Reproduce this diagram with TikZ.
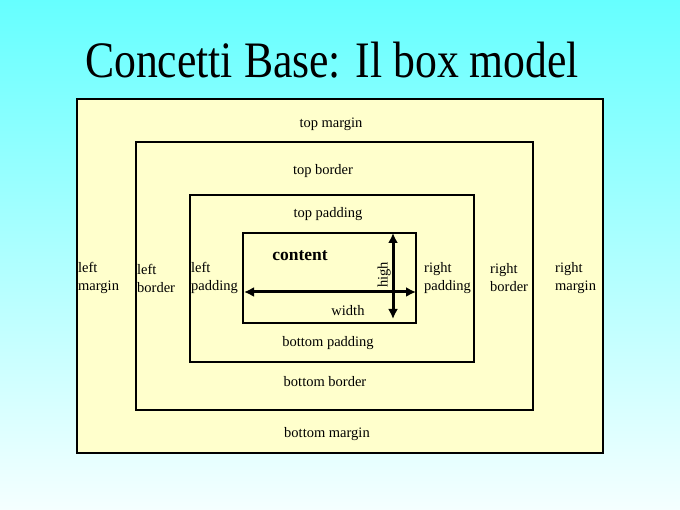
\documentclass[tikz,border=0pt]{standalone}
\usepackage{fontspec}
\setmainfont{Liberation Serif}
\usepackage{tikz}
\usetikzlibrary{arrows.meta,positioning,calc}

\begin{document}
\begin{tikzpicture}[
  x=1pt, y=-1pt,
  box/.style={draw=black, line width=1.2pt, fill=boxyellow},
  lab/.style={font=\fontsize{14.5}{18}\selectfont, inner sep=0pt},
  side/.style={lab, align=left, anchor=west},
  arr/.style={line width=3pt, {Latex[length=10pt,width=10pt]}-{Latex[length=10pt,width=10pt]}}
]
\definecolor{boxyellow}{HTML}{FFFFCC}
\useasboundingbox (0,0) rectangle (680,510);
\shade[top color=cyan!60, bottom color=cyan!4] (0,0) rectangle (680,510);

% title
\node (title) at (332,60) {\scalebox{1}[1.17]{\fontsize{43.7}{50}\selectfont Concetti Base: Il box model}};

% nested boxes
\draw[box] (77,99) rectangle (603,453);
\draw[box] (136,142) rectangle (533,410);
\draw[box] (190,195) rectangle (474,362);
\draw[box] (243,233) rectangle (416,323);

% top and bottom labels
\node[lab] (tmargin) at (331,124) {top margin};
\node[lab] (tborder) at (323,171) {top border};
\node[lab] (tpadding) at (328,214) {top padding};
\node[lab] (bpadding) at (328,343) {bottom padding};
\node[lab] (bborder) at (325,382) {bottom border};
\node[lab] (bmargin) at (327,434) {bottom margin};

% side labels
\node[side] (lmargin) at (78,278) {left\\margin};
\node[side] (lborder) at (137,278) {left\\border};
\node[side] (lpadding) at (191,278) {left\\padding};
\node[side] (rpadding) at (424,278) {right\\padding};
\node[side] (rborder) at (490,278) {right\\border};
\node[side] (rmargin) at (555,278) {right\\margin};

% content
\node[inner sep=0pt, font=\fontsize{17.5}{20}\selectfont\bfseries] (content) at (300,256) {content};
\coordinate (wl) at (244,292);
\coordinate (wr) at (416,292);
\coordinate (ht) at (393,233);
\coordinate (hb) at (393,319);
\draw[arr] (wl) -- (wr);
\draw[arr] (ht) -- (hb);
\node[lab] (width) at (348,311) {width};
\node[lab, rotate=90, anchor=south] (high) at (391,275) {high};
\end{tikzpicture}
\end{document}
